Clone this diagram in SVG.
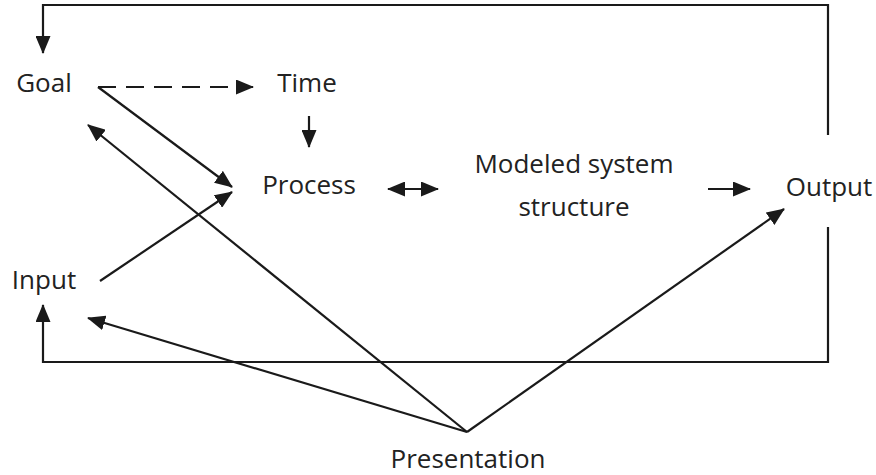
<svg xmlns="http://www.w3.org/2000/svg" width="876" height="475" viewBox="0 0 876 475">
<style>
text{font-family:"Open Sans","Liberation Sans",sans-serif;font-size:26px;fill:#222;text-anchor:middle}
.c{fill:none;stroke:#1a1a1a;stroke-width:2.2}
.d{stroke-dasharray:18 10}
</style>
<defs>
<marker id="ah" markerUnits="userSpaceOnUse" markerWidth="18" markerHeight="15" refX="17" refY="7.5" orient="auto-start-reverse" viewBox="0 0 18 15">
<path d="M0,0 L18,7.5 L0,15 Z" fill="#1a1a1a"/>
</marker>
</defs>
<rect width="876" height="475" fill="#fff"/>
<g id="connectors">
<path class="c" d="M828,135 V5 H43 V53" marker-end="url(#ah)"/>
<path class="c" d="M828,227 V362 H43 V305" marker-end="url(#ah)"/>
<path class="c d" d="M98,87 H253" marker-end="url(#ah)"/>
<path class="c" d="M309,116 V147" marker-end="url(#ah)"/>
<path class="c" d="M98,87 L232,187" marker-end="url(#ah)"/>
<path class="c" d="M100,281 L232,192" marker-end="url(#ah)"/>
<path class="c" d="M467,432 L88,125" marker-end="url(#ah)"/>
<path class="c" d="M467,432 L88,318" marker-end="url(#ah)"/>
<path class="c" d="M467,432 L784,209" marker-end="url(#ah)"/>
<path class="c" d="M388,189 H438" marker-start="url(#ah)" marker-end="url(#ah)"/>
<path class="c" d="M708,189 H750" marker-end="url(#ah)"/>
</g>
<g id="goal"><text x="44" y="92">Goal</text></g>
<g id="time"><text x="307" y="92">Time</text></g>
<g id="process"><text x="309" y="194">Process</text></g>
<g id="modeled"><text x="574" y="173">Modeled system</text><text x="574" y="216">structure</text></g>
<g id="output"><text x="829" y="196">Output</text></g>
<g id="input"><text x="44" y="289">Input</text></g>
<g id="presentation"><text x="468" y="468">Presentation</text></g>
</svg>
